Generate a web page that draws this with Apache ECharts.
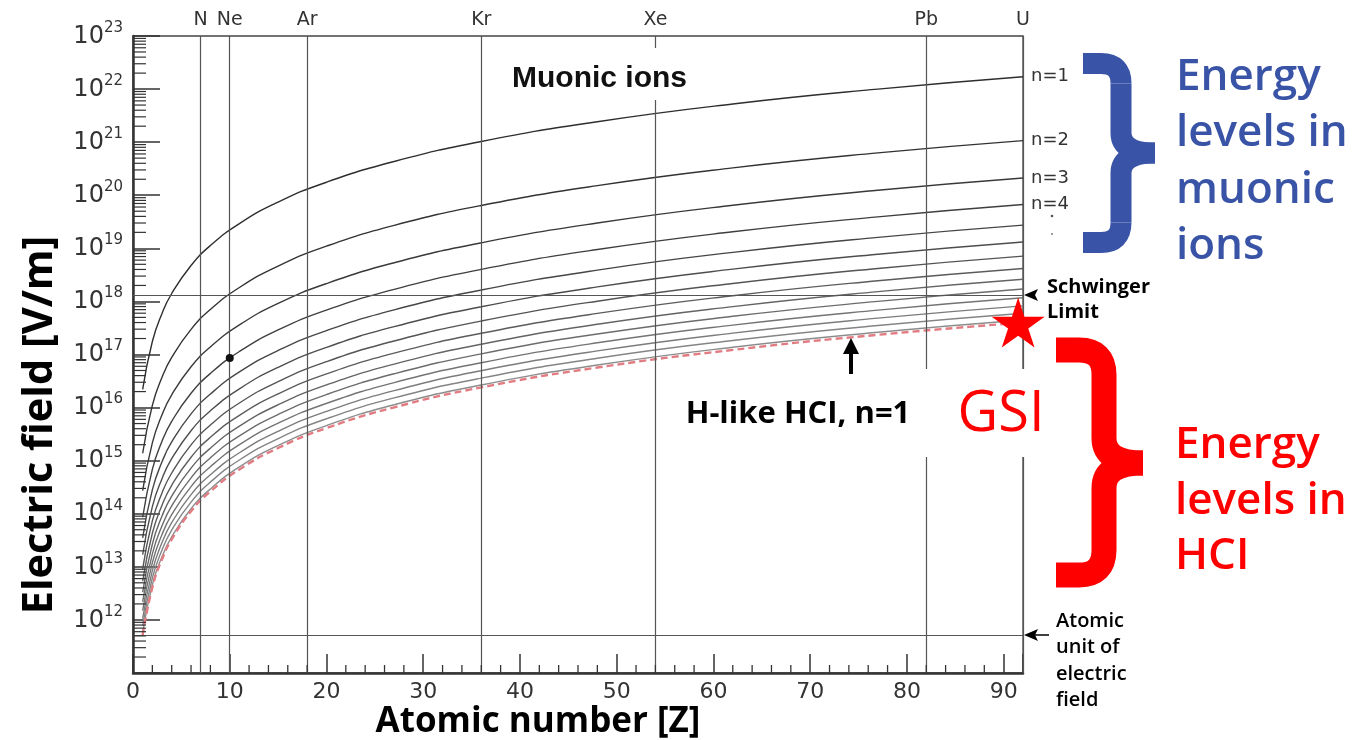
<!DOCTYPE html>
<html>
<head>
<meta charset="utf-8">
<script src="https://cdn.jsdelivr.net/npm/echarts@6/dist/echarts.min.js"></script>
<style>
  html, body { margin: 0; padding: 0; background: #fff; }
  #chart { width: 1371px; height: 740px; }
</style>
</head>
<body>
<div id="chart"></div>
<script>
// Atomic numbers at which the field curves are sampled
const zGrid = [1, 2, 3, 4, 6, 8, 11, 15, 20, 27, 36, 48, 62, 77, 92];

// Field at the Bohr radius of muonic ions, levels n = 1 .. 14 [V/m]
const muonN1  = [2.20e16, 1.76e17, 5.94e17, 1.41e18, 4.75e18, 1.13e19, 2.93e19, 7.43e19, 1.76e20, 4.33e20, 1.03e21, 2.43e21, 5.24e21, 1.00e22, 1.71e22];
const muonN2  = [1.38e15, 1.10e16, 3.71e16, 8.80e16, 2.97e17, 7.04e17, 1.83e18, 4.64e18, 1.10e19, 2.71e19, 6.42e19, 1.52e20, 3.28e20, 6.28e20, 1.07e21];
const muonN3  = [2.72e14, 2.17e15, 7.33e15, 1.74e16, 5.87e16, 1.39e17, 3.61e17, 9.17e17, 2.17e18, 5.35e18, 1.27e19, 3.00e19, 6.47e19, 1.24e20, 2.11e20];
const muonN4  = [8.59e13, 6.87e14, 2.32e15, 5.50e15, 1.86e16, 4.40e16, 1.14e17, 2.90e17, 6.87e17, 1.69e18, 4.01e18, 9.50e18, 2.05e19, 3.92e19, 6.69e19];
const muonN5  = [3.52e13, 2.82e14, 9.50e14, 2.25e15, 7.60e15, 1.80e16, 4.69e16, 1.19e17, 2.82e17, 6.93e17, 1.64e18, 3.89e18, 8.39e18, 1.61e19, 2.74e19];
const muonN6  = [1.70e13, 1.36e14, 4.58e14, 1.09e15, 3.67e15, 8.69e15, 2.26e16, 5.73e16, 1.36e17, 3.34e17, 7.92e17, 1.88e18, 4.05e18, 7.75e18, 1.32e19];
const muonN7  = [9.16e12, 7.33e13, 2.47e14, 5.86e14, 1.98e15, 4.69e15, 1.22e16, 3.09e16, 7.33e16, 1.80e17, 4.27e17, 1.01e18, 2.18e18, 4.18e18, 7.13e18];
const muonN8  = [5.37e12, 4.30e13, 1.45e14, 3.44e14, 1.16e15, 2.75e15, 7.15e15, 1.81e16, 4.30e16, 1.06e17, 2.51e17, 5.94e17, 1.28e18, 2.45e18, 4.18e18];
const muonN9  = [3.35e12, 2.68e13, 9.05e13, 2.15e14, 7.24e14, 1.72e15, 4.46e15, 1.13e16, 2.68e16, 6.60e16, 1.56e17, 3.71e17, 7.99e17, 1.53e18, 2.61e18];
const muonN10 = [2.20e12, 1.76e13, 5.94e13, 1.41e14, 4.75e14, 1.13e15, 2.93e15, 7.43e15, 1.76e16, 4.33e16, 1.03e17, 2.43e17, 5.24e17, 1.00e18, 1.71e18];
const muonN11 = [1.50e12, 1.20e13, 4.06e13, 9.62e13, 3.25e14, 7.69e14, 2.00e15, 5.07e15, 1.20e16, 2.96e16, 7.01e16, 1.66e17, 3.58e17, 6.86e17, 1.17e18];
const muonN12 = [1.06e12, 8.49e12, 2.87e13, 6.79e13, 2.29e14, 5.43e14, 1.41e15, 3.58e15, 8.49e15, 2.09e16, 4.95e16, 1.17e17, 2.53e17, 4.84e17, 8.26e17];
const muonN13 = [7.70e11, 6.16e12, 2.08e13, 4.93e13, 1.66e14, 3.94e14, 1.03e15, 2.60e15, 6.16e15, 1.52e16, 3.59e16, 8.52e16, 1.84e17, 3.52e17, 6.00e17];
const muonN14 = [5.73e11, 4.58e12, 1.55e13, 3.67e13, 1.24e14, 2.93e14, 7.62e14, 1.93e15, 4.58e15, 1.13e16, 2.67e16, 6.33e16, 1.37e17, 2.62e17, 4.46e17];

// Hydrogen-like highly charged ions, n = 1 [V/m]
const hciN1 = [5.14e11, 4.11e12, 1.39e13, 3.29e13, 1.11e14, 2.63e14, 6.84e14, 1.73e15, 4.11e15, 1.01e16, 2.40e16, 5.68e16, 1.22e17, 2.35e17, 4.00e17];

const muonLevels = [muonN1, muonN2, muonN3, muonN4, muonN5, muonN6, muonN7,
                    muonN8, muonN9, muonN10, muonN11, muonN12, muonN13, muonN14];
const levelLabels = ['n=1', 'n=2', 'n=3', 'n=4'];

// Reference elements marked along the top
const elementZ = [7, 10, 18, 36, 54, 82, 92];
const elementSymbols = ['N', 'Ne', 'Ar', 'Kr', 'Xe', 'Pb', 'U'];

// Reference field strengths [V/m]
const schwingerLimit = 1.32e18;
const atomicUnitField = 5.14e11;

// Marked points: muonic neon n=4, and H-like uranium reached at GSI
const neonPoint = [10, 8.6e16];
const gsiPoint = [91.5, 4.0e17];

// Axis ticks
const xTickLabels = [0, 10, 20, 30, 40, 50, 60, 70, 80, 90];
const yDecades = [12, 13, 14, 15, 16, 17, 18, 19, 20, 21, 22, 23];
const xMinorTicks = [];
for (let z = 2; z < 92; z += 2) if (z % 10 !== 0) xMinorTicks.push(z);
const yMinorTicks = [];
for (let e = 11; e < 23; e++) for (let k = 2; k <= 9; k++) yMinorTicks.push(k * Math.pow(10, e));

// ---- styling ----
const curveColors = ['#2e2e2e', '#333333', '#393939', '#3f3f3f', '#464646', '#4d4d4d', '#545454',
                     '#5c5c5c', '#646464', '#6c6c6c', '#747474', '#7c7c7c', '#848484', '#8c8c8c'];
const axisColor = '#333';
const tickFont = 'DejaVu Sans';
const noteFont = '"Open Sans", Lato, sans-serif';
const blue = '#3954a6';
const red = '#ff0000';

const pair = arr => zGrid.map((z, i) => [z, arr[i]]);

const series = [];

muonLevels.forEach((arr, i) => {
  series.push({
    type: 'line',
    name: 'muonic n=' + (i + 1),
    data: pair(arr),
    smooth: 0.5,
    showSymbol: false,
    symbol: 'none',
    lineStyle: { color: curveColors[i], width: 1.4 },
    z: 3,
    endLabel: i < levelLabels.length ? {
      show: true,
      formatter: levelLabels[i],
      distance: 8,
      color: '#333',
      fontFamily: tickFont,
      fontSize: 18
    } : { show: false }
  });
});

series.push({
  type: 'line',
  name: 'H-like HCI n=1',
  data: pair(hciN1),
  smooth: 0.5,
  showSymbol: false,
  symbol: 'none',
  lineStyle: { color: '#e27c82', width: 2.4, type: [7, 4] },
  z: 4
});

// Element lines, Schwinger limit and atomic unit of field
series.push({
  type: 'line',
  name: 'reference lines',
  data: [],
  silent: true,
  markLine: {
    silent: true,
    symbol: 'none',
    animation: false,
    lineStyle: { color: '#555', width: 1.2, type: 'solid' },
    label: {
      show: true,
      position: 'end',
      formatter: '{b}',
      color: '#333',
      fontFamily: tickFont,
      fontSize: 19,
      distance: 6
    },
    data: elementZ.map((z, i) => ({ xAxis: z, name: elementSymbols[i] }))
      .concat([
        { yAxis: schwingerLimit, name: 'Schwinger', label: { show: false } },
        { yAxis: atomicUnitField, name: 'atomic unit', label: { show: false } }
      ])
  }
});

series.push({
  type: 'scatter',
  data: [neonPoint],
  symbolSize: 8,
  itemStyle: { color: '#111', opacity: 1 },
  z: 6
});

series.push({
  type: 'scatter',
  data: [gsiPoint],
  symbol: 'path://M0,-100L22.45,-30.9L95.1,-30.9L36.3,11.8L58.8,80.9L0,38.2L-58.8,80.9L-36.3,11.8L-95.1,-30.9L-22.45,-30.9Z',
  symbolSize: [53, 50],
  itemStyle: { color: red, opacity: 1 },
  z: 8
});

// Minor ticks on the log axis (2..9 x 10^n)
series.push({
  type: 'custom',
  silent: true,
  clip: false,
  data: yMinorTicks.map(v => [0, v]),
  renderItem: (params, api) => {
    const p = api.coord([0, api.value(1)]);
    return { type: 'line', shape: { x1: p[0], y1: p[1], x2: p[0] + 13, y2: p[1] },
             style: { stroke: axisColor, lineWidth: 1.2 } };
  },
  z: 5
});

// Minor ticks on the Z axis (every 2)
series.push({
  type: 'custom',
  silent: true,
  clip: false,
  data: xMinorTicks.map(z => [z, 1e11]),
  renderItem: (params, api) => {
    const p = api.coord([api.value(0), api.value(1)]);
    return { type: 'line', shape: { x1: p[0], y1: p[1], x2: p[0], y2: p[1] - 8 },
             style: { stroke: axisColor, lineWidth: 1.3 } };
  },
  z: 5
});

// A curly brace built from straight and quadratic stroked pieces
function brace(x0, xv, xt, yTop, yMid, yBot, r, width, color) {
  const st = { stroke: color, lineWidth: width, fill: null, lineCap: 'butt' };
  const pieces = [
    { type: 'line', shape: { x1: x0, y1: yTop, x2: xv - r, y2: yTop } },
    { type: 'bezierCurve', shape: { x1: xv - r, y1: yTop, cpx1: xv, cpy1: yTop, x2: xv, y2: yTop + r } },
    { type: 'line', shape: { x1: xv, y1: yTop + r, x2: xv, y2: yMid - r } },
    { type: 'bezierCurve', shape: { x1: xv, y1: yMid - r, cpx1: xv, cpy1: yMid, x2: xt, y2: yMid } },
    { type: 'bezierCurve', shape: { x1: xt, y1: yMid, cpx1: xv, cpy1: yMid, x2: xv, y2: yMid + r } },
    { type: 'line', shape: { x1: xv, y1: yMid + r, x2: xv, y2: yBot - r } },
    { type: 'bezierCurve', shape: { x1: xv, y1: yBot - r, cpx1: xv, cpy1: yBot, x2: xv - r, y2: yBot } },
    { type: 'line', shape: { x1: xv - r, y1: yBot, x2: x0, y2: yBot } }
  ];
  return pieces.map(p => Object.assign(p, { z: 21, style: Object.assign({}, st) }));
}

const graphic = [
  // blank panel behind the H-like label and GSI
  { type: 'rect', z: 20, shape: { x: 662, y: 369, width: 388, height: 88 }, style: { fill: '#fff' } },
  { type: 'text', z: 21, x: 40, y: 425, rotation: Math.PI / 2,
    style: { text: 'Electric field [V/m]', fill: '#000', font: 'bold 41.5px ' + noteFont,
             align: 'center', verticalAlign: 'middle' } },
  { type: 'text', z: 21, x: 538, y: 722,
    style: { text: 'Atomic number [Z]', fill: '#000', font: 'bold 35px ' + noteFont,
             align: 'center', verticalAlign: 'middle' } },
  // Schwinger limit marker
  { type: 'polygon', z: 21, shape: { points: [[1024, 295], [1038, 289], [1035, 295], [1038, 301]] },
    style: { fill: '#000' } },
  { type: 'text', z: 21, x: 1047, y: 275,
    style: { text: 'Schwinger\nLimit', fill: '#000', font: 'bold 20px ' + noteFont,
             lineHeight: 25, align: 'left', verticalAlign: 'top' } },
  // atomic unit marker
  { type: 'polygon', z: 21, shape: { points: [[1024, 635], [1038, 629], [1035, 635], [1038, 641]] },
    style: { fill: '#000' } },
  { type: 'line', z: 21, shape: { x1: 1034, y1: 635, x2: 1049, y2: 635 },
    style: { stroke: '#000', lineWidth: 1.5 } },
  { type: 'text', z: 21, x: 1056, y: 608,
    style: { text: 'Atomic\nunit of\nelectric\nfield', fill: '#000', font: '600 20px ' + noteFont,
             lineHeight: 26.4, align: 'left', verticalAlign: 'top' } },
  // H-like HCI arrow and label
  { type: 'rect', z: 21, shape: { x: 849, y: 352, width: 4, height: 22 }, style: { fill: '#000' } },
  { type: 'polygon', z: 21, shape: { points: [[851, 338], [843, 354], [859, 354]] }, style: { fill: '#000' } },
  { type: 'text', z: 21, x: 798, y: 414,
    style: { text: 'H-like HCI, n=1', fill: '#000', font: 'bold 31px ' + noteFont,
             align: 'center', verticalAlign: 'middle' } },
  { type: 'text', z: 21, x: 1001, y: 415,
    style: { text: 'GSI', fill: red, font: '400 56px ' + noteFont,
             align: 'center', verticalAlign: 'middle' } },
  // continuation dots under the level labels
  { type: 'circle', z: 21, shape: { cx: 1052, cy: 216, r: 1.3 }, style: { fill: '#555' } },
  { type: 'circle', z: 21, shape: { cx: 1052, cy: 234, r: 1.1 }, style: { fill: '#888' } },
  // group labels
  { type: 'text', z: 21, x: 1176, y: 49,
    style: { text: 'Energy\nlevels in\nmuonic\nions', fill: blue, font: '600 44px ' + noteFont,
             lineHeight: 56.5, align: 'left', verticalAlign: 'top' } },
  { type: 'text', z: 21, x: 1175, y: 418,
    style: { text: 'Energy\nlevels in\nHCI', fill: red, font: '600 44px ' + noteFont,
             lineHeight: 55.5, align: 'left', verticalAlign: 'top' } }
].concat(
  brace(1083, 1121, 1155, 63.5, 153, 242.5, 20, 21, blue),
  brace(1056, 1104, 1143, 350, 463, 575, 25, 25, red)
);

const chart = echarts.init(document.getElementById('chart'), null, { renderer: 'canvas' });
chart.setOption({
  animation: false,
  backgroundColor: '#fff',
  title: {
    text: 'Muonic ions',
    left: 502,
    top: 48,
    padding: [16, 10, 6, 10],
    backgroundColor: '#fff',
    textStyle: { fontFamily: '"Liberation Sans", Arial, sans-serif', fontWeight: 'bold', fontSize: 30, color: '#111' },
    z: 10
  },
  grid: {
    left: 133, top: 36, width: 890, height: 637,
    show: true, borderColor: '#444', borderWidth: 1.3, backgroundColor: 'transparent'
  },
  xAxis: {
    type: 'value',
    min: 0, max: 92, interval: 10,
    axisLine: { lineStyle: { color: axisColor, width: 2.5 } },
    axisTick: { inside: true, length: 19, lineStyle: { color: axisColor, width: 1.5 } },
    axisLabel: {
      margin: 8, color: '#333', fontFamily: tickFont, fontSize: 22,
      formatter: v => (xTickLabels.indexOf(v) >= 0 ? String(v) : '')
    },
    splitLine: { show: false }
  },
  yAxis: {
    type: 'log',
    logBase: 10,
    min: 1e11, max: 1e23, interval: 1, splitNumber: 12,
    axisLine: { lineStyle: { color: axisColor, width: 2.5 } },
    axisTick: { inside: true, length: 27, lineStyle: { color: axisColor, width: 1.5 } },
    axisLabel: {
      margin: 10,
      formatter: v => {
        const e = Math.round(Math.log10(v));
        return yDecades.indexOf(e) >= 0 ? '{b|10}{s|' + e + '}' : '';
      },
      rich: {
        b: { fontFamily: tickFont, fontSize: 24, color: '#333', lineHeight: 25, verticalAlign: 'bottom' },
        s: { fontFamily: tickFont, fontSize: 15, color: '#333', lineHeight: 15, verticalAlign: 'bottom', padding: [0, 0, 13, 0] }
      }
    },
    splitLine: { show: false },
    minorTick: { show: false }
  },
  series: series,
  graphic: graphic
});
</script>
</body>
</html>
